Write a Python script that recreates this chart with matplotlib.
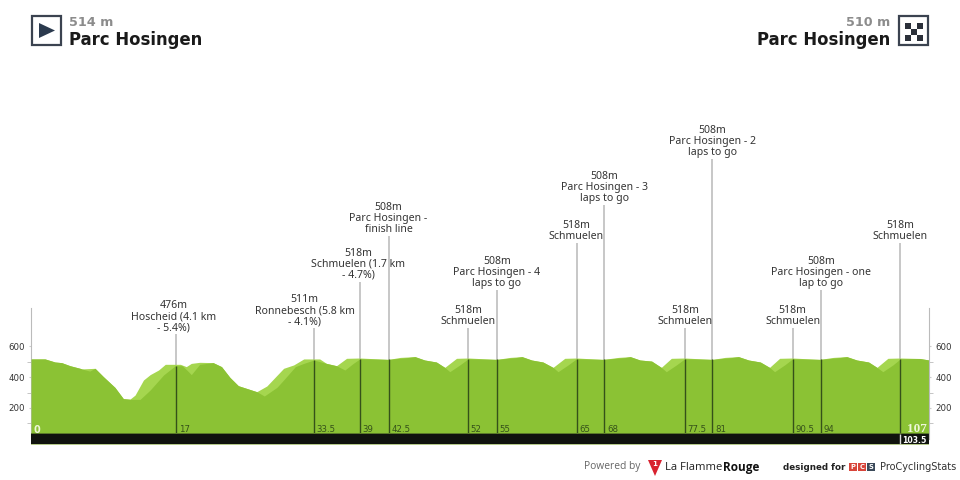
import numpy as np
import matplotlib
matplotlib.use('Agg')
import matplotlib.pyplot as plt
from matplotlib.patches import Polygon, Rectangle

# upper (light) profile
top_km = [0, 1.67, 2.86, 3.65, 4.65, 5.84, 6.04, 7.63, 8.62, 10.0, 11.0, 11.8, 12.4, 13.4, 14.2, 15.2, 16.0,
          17.2, 17.8, 18.5, 19.1, 20.1, 21.7, 22.7, 23.7, 24.7, 26.9, 28.1, 30.1, 31.3, 32.5, 34.4, 35.2, 36.4,
          37.6, 39.2, 42.6, 44.0, 45.75, 46.9, 48.3, 49.3, 50.7, 52.1, 55.5, 57.1, 58.5, 59.65, 61.0, 62.2,
          63.6, 65.0, 68.2, 70.0, 71.4, 72.56, 73.95, 75.1, 76.3, 77.9, 81.2, 82.7, 84.3, 85.5, 86.9, 88.0,
          89.2, 90.75, 94.0, 95.6, 97.2, 98.4, 99.8, 100.8, 102.1, 103.6, 105.9, 107]
top_m = [519, 519, 499, 495, 475, 458, 454, 458, 404, 334, 261, 258, 284, 382, 417, 447, 484,
         484, 484, 469, 490, 497, 495, 469, 399, 345, 306, 343, 458, 480, 519, 519, 490, 475,
         523, 525, 516, 529, 534, 512, 499, 464, 523, 525, 516, 529, 534, 512, 499, 464,
         523, 525, 516, 529, 534, 512, 505, 464, 523, 525, 516, 529, 534, 512, 499, 464,
         523, 525, 516, 529, 534, 512, 499, 464, 523, 525, 522, 512]

# lower (dark) profile
low_km = [0, 1.67, 2.86, 3.65, 4.65, 5.84, 6.04, 7.0, 7.63, 8.62, 10.0, 11.0, 11.8, 13.0, 14.2, 15.8, 17.2, 18.0,
          18.6, 19.1, 20.1, 21.7, 22.7, 23.7, 24.7, 26.9, 27.8, 29.3, 30.1, 31.5, 32.5, 33.7, 35.2, 36.4,
          37.4, 38.4, 39.2, 42.6, 44.9, 45.75, 46.9, 48.3, 49.3, 49.9, 51.1, 52.1, 55.5, 57.8, 58.5, 59.65, 61.0,
          62.2, 62.8, 64.0, 65.0, 68.2, 70.8, 71.4, 72.56, 73.95, 75.1, 75.7, 76.9, 77.9, 81.2, 83.5, 84.3,
          85.5, 86.9, 88.0, 88.6, 89.8, 90.75, 94.0, 96.4, 97.2, 98.4, 99.8, 100.8, 101.5, 102.7, 103.6,
          105.9, 107]
low_m = [519, 519, 499, 495, 475, 458, 454, 440, 458, 404, 334, 261, 256, 256, 317, 415, 475, 475,
         445, 417, 484, 495, 469, 399, 345, 306, 278, 334, 382, 469, 490, 512, 490, 475,
         447, 490, 520, 516, 528, 534, 512, 499, 464, 436, 480, 520, 516, 528, 534, 512, 499,
         464, 436, 480, 520, 516, 528, 534, 512, 505, 464, 436, 480, 520, 516, 528, 534,
         512, 499, 464, 436, 480, 520, 516, 528, 534, 512, 499, 464, 436, 480, 520,
         522, 512]

# climbs and passages
mark_km = [17.28, 33.7, 39.2, 42.6, 52.07, 55.5, 65.0, 68.3, 77.9, 81.2, 90.75, 94.1, 103.6]
mark_top = [681, 720, 1020, 1319, 720, 967, 1273, 1520, 720, 1820, 720, 967, 1273]
mark_km_labels = ['17', '33.5', '39', '42.5', '52', '55', '65', '68', '77.5', '81', '90.5', '94', '103.5']
mark_names = ['476m\nHoscheid (4.1 km\n- 5.4%)',
              '511m\nRonnebesch (5.8 km\n- 4.1%)',
              '518m\nSchmuelen (1.7 km\n- 4.7%)',
              '508m\nParc Hosingen -\nfinish line',
              '518m\nSchmuelen',
              '508m\nParc Hosingen - 4\nlaps to go',
              '518m\nSchmuelen',
              '508m\nParc Hosingen - 3\nlaps to go',
              '518m\nSchmuelen',
              '508m\nParc Hosingen - 2\nlaps to go',
              '518m\nSchmuelen',
              '508m\nParc Hosingen - one\nlap to go',
              '518m\nSchmuelen']
name_km = [17.0, 32.6, 39.0, 42.6, 52.07, 55.5, 65.0, 68.3, 77.9, 81.2, 90.75, 94.1, 103.6]

y_ticks = [200, 400, 600]
y_minor = [100, 300, 500]

TEXT = '#333333'
LIGHT = '#a5d64f'
DARK = '#8bc234'

fig = plt.figure(figsize=(9.6, 4.8), dpi=100)
ax = fig.add_axes([31 / 960, 35 / 480, 898 / 960, 445 / 480])
ax.set_xlim(0, 107)
ax.set_ylim(-40.6, 2853)
ax.patch.set_alpha(0)

for s in ['top', 'bottom', 'right']:
    ax.spines[s].set_visible(False)
ax.spines['left'].set_bounds(0, 850)
ax.spines['left'].set_color('#bbbbbb')
ax.set_xticks([])
ax.set_yticks(y_ticks)
ax.set_yticks(y_minor, minor=True)
ax.tick_params(axis='y', which='major', length=1.5, color='#cccccc', labelsize=6.2, labelcolor=TEXT, pad=3)
ax.tick_params(axis='y', which='minor', length=3, color='#bbbbbb')

ax2 = ax.twinx()
ax2.set_ylim(ax.get_ylim())
ax2.patch.set_alpha(0)
for s in ['top', 'bottom', 'left']:
    ax2.spines[s].set_visible(False)
ax2.spines['right'].set_bounds(0, 850)
ax2.spines['right'].set_color('#bbbbbb')
ax2.set_yticks(y_ticks)
ax2.set_yticks(y_minor, minor=True)
ax2.tick_params(axis='y', which='major', length=1.5, color='#cccccc', labelsize=6.2, labelcolor=TEXT, pad=3)
ax2.tick_params(axis='y', which='minor', length=3, color='#bbbbbb')

ax.vlines(mark_km, 30, mark_top, color='#bdbdbd', lw=1.2, zorder=1)
ax.fill_between(top_km, 30, top_m, color=LIGHT, lw=0, zorder=2)
ax.fill_between(low_km, 30, low_m, color=DARK, lw=0, zorder=3)
ax.vlines(mark_km, 30, np.interp(mark_km, low_km, low_m), color='#35511a', lw=1.0, zorder=4)

# distance bar
ax.axhspan(-36, 31, color='#10130e', lw=0, zorder=5)
ax.axhspan(-40.6, -36, color='#b5c98a', lw=0, zorder=5)
ax.axhspan(31, 36, color='#5a7a28', lw=0, zorder=5)
ax.vlines(mark_km[-1], -36, 31, color='#dddddd', lw=1.0, zorder=6)

for km, lab, top, name, nx in zip(mark_km, mark_km_labels, mark_top, mark_names, name_km):
    ax.text(nx, top + 6, name, ha='center', va='bottom', fontsize=7.6, color=TEXT, linespacing=1.0,
            family='Noto Sans', zorder=7)
    if lab == '103.5':
        ax.annotate(lab, (km, -14), xytext=(1.5, 0), textcoords='offset points', ha='left', va='center',
                    fontsize=5.6, color='white', fontweight='bold', zorder=7)
    else:
        ax.annotate(lab, (km, 58), xytext=(2, 0), textcoords='offset points', ha='left', va='center',
                    fontsize=6.2, color='#35511a', zorder=7)
ax.annotate('0', (0, 60), xytext=(2, 0), textcoords='offset points', ha='left', va='center',
            fontsize=7, color='#eef7d8', fontweight='bold', zorder=7)
ax.annotate('107', (107, 66), xytext=(-1.5, 0), textcoords='offset points', ha='right', va='center',
            fontsize=9.5, color='#eef7d8', fontweight='bold', family='Liberation Serif', zorder=7)

# header and footer drawn in pixel coordinates
px = fig.add_axes([0, 0, 1, 1])
px.set_xlim(0, 960)
px.set_ylim(480, 0)
px.axis('off')
px.patch.set_alpha(0)

px.add_patch(Rectangle((32, 16), 29, 29, fc='white', ec='#3b4350', lw=1.6))
px.add_patch(Polygon([[39, 23], [39, 38], [55, 30.5]], fc='#2b3a4e', lw=0))
px.add_patch(Rectangle((899, 16), 29, 29, fc='white', ec='#3b4350', lw=1.6))
for i in range(3):
    for j in range(3):
        if (i + j) % 2 == 0:
            px.add_patch(Rectangle((905 + 6 * i, 23 + 6 * j), 6, 6, fc='#2b303a', lw=0))

px.text(69, 22, '514 m', fontsize=9.2, fontweight='bold', color='#8c8c8c', va='center', ha='left')
px.text(69, 40, 'Parc Hosingen', fontsize=11.9, fontweight='bold', color='#1a1a1a', va='center', ha='left')
px.text(890, 22, '510 m', fontsize=9.2, fontweight='bold', color='#8c8c8c', va='center', ha='right')
px.text(890, 40, 'Parc Hosingen', fontsize=11.9, fontweight='bold', color='#1a1a1a', va='center', ha='right')

px.text(584, 467, 'Powered by', fontsize=7.4, color='#666666', va='center', ha='left', family='Open Sans')
px.add_patch(Polygon([[648, 460], [662, 460], [655, 476]], fc='#d8222f', lw=0))
px.text(655, 464.5, '1', fontsize=5, color='white', va='center', ha='center', fontweight='bold')
px.text(665, 467, 'La Flamme', fontsize=8.1, color='#222222', va='center', ha='left', family='Open Sans')
px.text(723.5, 467, 'Rouge', fontsize=8.5, color='#111111', va='center', ha='left', fontweight='bold', family='Open Sans')
px.text(783, 467, 'designed for', fontsize=6.3, color='#222222', va='center', ha='left', fontweight='bold')
for x0, col, ch in zip([849, 858, 867], ['#d8453a', '#d8453a', '#3b4a5a'], 'PCS'):
    px.add_patch(Rectangle((x0, 463), 8, 8, fc=col, lw=0))
    px.text(x0 + 4, 467, ch, fontsize=4.8, color='white', va='center', ha='center', fontweight='bold')
px.text(880, 467, 'ProCyclingStats', fontsize=7.0, color='#333333', va='center', ha='left')

fig.savefig('out.png', dpi=100)
